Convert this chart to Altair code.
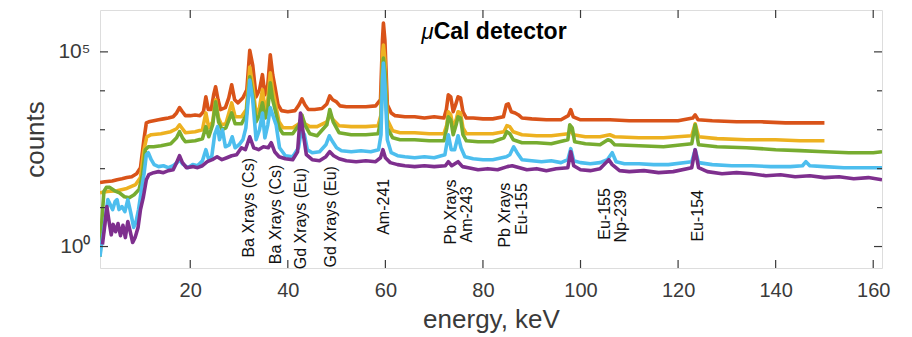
import altair as alt
import pandas as pd

# ---- spectra: energy (keV) and counts per spectrum ----
energy_red = [1.5, 2.5, 4, 5, 6, 7, 8, 9, 9.8, 10.5, 11.0, 11.5, 12.5, 13.5, 14.5, 15.5, 16.5, 17.2, 17.8, 18.4,
              19, 20, 21, 22, 22.7, 23.2, 23.7, 24.3, 24.8, 25.2, 25.7, 26.2, 27.2, 27.9, 28.5, 29.1, 29.8, 30.8,
              31.6, 32.2, 32.8, 33.5, 34.2, 34.8, 35.3, 35.9, 36.4, 36.9, 37.4, 38.0, 38.7, 40, 41.5, 42.3, 42.9,
              43.5, 44.2, 45.5, 47, 48.0, 48.6, 49.2, 49.9, 50.7, 52, 54, 56, 58, 59.0, 59.4, 59.6, 59.9, 60.4,
              61.2, 62, 64, 66, 68, 70, 72, 72.5, 72.9, 73.4, 73.9, 74.4, 74.9, 75.4, 75.9, 76.6, 78, 80, 82,
              84.2, 84.8, 85.2, 85.8, 86.6, 87.3, 88, 90, 93, 96, 97.5, 98.0, 98.5, 100, 103, 106, 110, 115, 120,
              123.0, 123.5, 124.1, 127, 132, 137, 142, 146, 150]
counts_red = [44, 46, 48, 52, 55, 59, 62, 74, 106, 555, 1500, 1600, 1700, 1800, 1900, 2000, 2150, 2700, 3700, 2900,
              2300, 2300, 2400, 2300, 2900, 7000, 3300, 3300, 7900, 12700, 5900, 3300, 3700, 6600, 14300, 5900, 4900, 6600,
              10600, 110000, 46000, 7000, 10600, 26000, 7900, 14300, 84000, 26000, 12000, 4400, 3100, 2900, 3100, 4400, 6200,
              4400, 3300, 3300, 3500, 4600, 7400, 5900, 5300, 4100, 3900, 3900, 3900, 4100, 5900, 200000, 550000, 200000, 4400,
              2700, 2300, 2150, 2150, 2000, 2150, 2000, 3300, 7900, 7000, 2900, 4400, 7000, 6600, 2900, 2000, 2000, 1900, 1900,
              2150, 4400, 4600, 2900, 2700, 2400, 2000, 1900, 1800, 1800, 2300, 3300, 2150, 1800, 1800, 1800, 1700, 1700, 1700,
              2000, 2400, 1800, 1700, 1600, 1600, 1500, 1500, 1500]

energy_yellow = [1.5, 3, 5, 7, 8.8, 9.8, 10.5, 11.1, 12, 14, 16, 17.2, 17.8, 18.4, 19, 21, 22.5, 23.2, 23.8, 24.6,
                 25.2, 25.8, 26.4, 27.3, 28.5, 29.2, 30.5, 31.5, 32.2, 32.8, 33.5, 34.2, 34.8, 35.4, 35.9, 36.4, 36.9,
                 37.5, 38.2, 39, 41, 42.3, 42.9, 43.5, 44.5, 46, 48.0, 48.6, 49.3, 50.5, 53, 56, 58.5, 59.1, 59.4,
                 59.6, 59.9, 60.4, 61.5, 63, 66, 69, 72, 72.6, 72.9, 73.4, 73.9, 74.5, 74.9, 75.4, 75.9, 76.6, 79,
                 82, 84.3, 84.9, 85.5, 86.2, 88, 91, 94, 97.5, 98, 98.5, 101, 104, 106, 107, 112, 117, 122.8, 123.5,
                 124.2, 128, 134, 140, 145, 150]
counts_yellow = [24, 26, 27, 31, 39, 59, 307, 660, 745, 790, 890, 1060, 1340, 1060, 840, 890, 1000, 2700, 1120, 1600,
                 5900, 2000, 1340, 1420, 4900, 2150, 2150, 3300, 41000, 14300, 2400, 3700, 10600, 2900, 5900, 29000, 10600,
                 4400, 1600, 1120, 1120, 1420, 2000, 1420, 1200, 1200, 1600, 2400, 1800, 1270, 1200, 1200, 1270, 2400, 84000,
                 150000, 62000, 1800, 940, 840, 840, 790, 790, 1340, 2900, 2400, 1120, 1800, 2900, 2700, 1120, 790, 790,
                 790, 890, 1270, 1200, 890, 745, 700, 700, 790, 1000, 745, 660, 660, 745, 660, 620, 620, 700, 1420,
                 660, 590, 555, 555, 520, 520]

energy_green = [1.5, 1.9, 2.3, 2.8, 3.5, 4.5, 5.5, 6.5, 7.5, 8.5, 9.5, 10.2, 10.8, 11.4, 12.5, 14, 16, 17.2, 17.8,
                18.4, 19, 21, 22.5, 23.2, 23.8, 24.6, 25.2, 25.8, 26.5, 27.3, 28.5, 29.2, 30.5, 31.5, 32.2, 32.8, 33.5,
                34.2, 34.8, 35.4, 35.9, 36.4, 36.9, 37.5, 38.2, 39, 41, 42.3, 42.9, 43.5, 44.5, 46, 48.0, 48.6, 49.3,
                50.5, 53, 56, 58.5, 59.1, 59.4, 59.6, 59.9, 60.4, 61.5, 63, 66, 69, 72, 72.6, 72.9, 73.4, 73.9, 74.5,
                74.9, 75.4, 75.9, 76.6, 79, 82, 84.3, 84.9, 85.5, 86.2, 88, 91, 94, 97.4, 97.8, 98.3, 98.8, 101, 104,
                105.6, 106.2, 107, 112, 117, 122.8, 123.5, 124.2, 128, 134, 140, 145, 150, 155, 160, 161.8]
counts_green = [0.55, 4.9, 26, 33, 33, 27, 24, 19, 18, 21.5, 29, 70, 307, 365, 365, 389, 438, 620, 890,
                620, 490, 520, 590, 1200, 660, 1340, 5200, 1600, 1000, 1120, 2700, 1420, 1420, 2400, 23000, 7900, 1600,
                2400, 4900, 2000, 3300, 16000, 5900, 2900, 1120, 790, 790, 1340, 2400, 1340, 790, 700, 1340, 3300, 1600,
                840, 745, 745, 790, 1800, 34000, 69000, 31000, 1120, 620, 555, 555, 520, 520, 1120, 2150, 1800, 745, 1340,
                2150, 2000, 745, 520, 490, 490, 620, 890, 790, 555, 465, 465, 438, 555, 1340, 1120, 490, 438, 410,
                555, 520, 410, 389, 365, 438, 1340, 410, 365, 345, 307, 290, 273, 257, 257, 273]

energy_cyan = [1.5, 1.8, 2.2, 2.7, 3.1, 3.6, 4.1, 4.6, 5.0, 5.4, 6.0, 6.6, 7.2, 7.8, 8.4, 8.9, 9.4, 10.0, 10.5, 11.0,
               11.4, 12.0, 12.6, 13.5, 14.5, 15.5, 16.5, 17.3, 17.8, 18.4, 19.5, 20.5, 21.5, 22.5, 23.2, 23.8, 24.4,
               25.0, 25.6, 26.0, 26.6, 27.2, 28.0, 28.6, 29.2, 30.0, 30.8, 31.4, 32.2, 32.8, 33.5, 34.2, 34.8, 35.3,
               35.9, 36.4, 36.9, 37.6, 38.3, 39.5, 41, 42.2, 42.8, 43.4, 44.0, 45, 46.5, 47.8, 48.5, 49.2, 50.0, 51,
               53, 55, 57, 58.6, 59.1, 59.4, 59.6, 59.9, 60.4, 61.2, 62.5, 64, 66, 68, 70, 72.2, 72.9, 73.5, 74.2,
               74.9, 75.5, 76.3, 78, 80, 82, 84.8, 85.5, 86.3, 87.0, 88, 90, 92, 94, 96, 97.4, 98.0, 98.6, 100, 102,
               104, 105.5, 106.5, 107.3, 109, 112, 115, 118, 122.8, 123.5, 124.2, 127, 131, 135, 139, 143, 145.5,
               146.2, 147, 150, 154, 158, 161.8]
counts_cyan = [0.55, 1.13, 2.3, 6.6, 16, 11.9, 8.9, 14.3, 16, 8.9, 10.6, 7.9, 16, 7.4, 3.1, 4.4, 8.9, 29, 70, 228,
               257, 170, 127, 113, 119, 106, 119, 143, 170, 134, 106, 127, 119, 160, 307, 170, 203,
               745, 1200, 555, 1000, 365, 410, 660, 345, 410, 555, 1120, 19000, 5900, 555, 1000, 2700, 620,
               1340, 3700, 2400, 1340, 345, 215, 203, 345, 1000, 745, 307, 257, 273, 410, 700, 490, 345, 290,
               273, 290, 273, 307, 745, 19000, 52000, 14300, 555, 257, 215, 203, 191, 203, 191, 228, 745, 307, 307,
               700, 345, 203, 180, 170, 170, 203, 228, 365, 257, 170, 160, 151, 160, 143, 170, 326, 160, 143, 134,
               143, 170, 257, 151, 134, 134, 127, 127, 151, 307, 143, 127, 119, 119, 113, 113, 119,
               151, 119, 113, 106, 106, 106]

energy_purple = [2.0, 2.5, 2.9, 3.3, 3.8, 4.2, 4.7, 5.2, 5.7, 6.2, 6.7, 7.2, 7.7, 8.2, 8.7, 9.3, 9.8, 10.4, 11.0,
                 11.5, 12.5, 13.5, 14.5, 15.5, 16.5, 17.2, 17.8, 18.4, 19.2, 20.5, 21.5, 22.5, 23.5, 24.5, 25.5, 26.5,
                 27.5, 28.5, 29.5, 30.5, 31.3, 32.2, 33.0, 34.0, 35.0, 36.0, 36.6, 37.3, 38.2, 39.5, 41, 42.0, 42.6,
                 43.2, 43.8, 45, 46.5, 47.8, 48.6, 49.4, 50.5, 52, 54, 56, 58.0, 59.0, 59.5, 60.0, 61, 62.5, 64, 66,
                 68, 70, 72.3, 72.9, 73.6, 74.9, 75.8, 77, 79, 81, 83, 85, 86, 87.5, 89, 91, 93, 95, 97.4, 98.0, 98.6,
                 100, 102, 104, 105.8, 106.5, 108, 110, 113, 116, 119, 122.8, 123.5, 124.2, 126, 129, 132, 135, 138,
                 141, 144, 147, 150, 153, 156, 159, 161.8]
counts_purple = [1.13, 3.7, 10.6, 4.9, 2.0, 3.7, 2.4, 3.9, 1.9, 3.5, 1.7, 4.4, 2.4, 1.27, 1.7, 3.1, 8.9, 19, 52,
                 70, 79, 84, 79, 89, 94, 143, 215, 143, 106, 113, 106, 119, 151, 170, 203, 170,
                 191, 215, 228, 345, 307, 660, 345, 307, 365, 345, 465, 273, 203, 180, 170, 273, 2700,
                 745, 228, 170, 160, 203, 273, 215, 180, 160, 151, 160, 151, 191, 307, 191, 143, 127, 119, 113,
                 119, 113, 119, 151, 119, 151, 113, 106, 94, 100, 94, 113, 119, 106, 94, 100, 89, 100, 106, 273, 119,
                 94, 89, 100, 170, 127, 89, 84, 89, 79, 84, 106, 307, 106, 84, 74, 79, 74, 66,
                 70, 62, 66, 59, 62, 55, 59, 52]

series = [
    ("spectrum 1", "#D95319", energy_red, counts_red),
    ("spectrum 2", "#EDB120", energy_yellow, counts_yellow),
    ("spectrum 3", "#77AC30", energy_green, counts_green),
    ("spectrum 4", "#4DBEEE", energy_cyan, counts_cyan),
    ("spectrum 5", "#7E2F8E", energy_purple, counts_purple),
]

# ---- peak annotations (rotated labels) ----
label_text = ["Ba Xrays (Cs)", "Ba Xrays (Cs)", "Gd Xrays (Eu)", "Gd Xrays (Eu)", "Am-241",
              "Pb Xrays", "Am-243", "Pb Xrays", "Eu-155", "Eu-155", "Np-239", "Eu-154"]
label_energy = [32.0, 37.5, 42.6, 48.8, 59.8, 73.4, 76.8, 84.6, 88.1, 105.1, 108.2, 124.0]
label_counts = [0.52, 0.35, 0.26, 0.29, 2.0, 1.13, 1.27, 0.94, 2.0, 1.5, 1.27, 1.34]

# ---- axis ticks ----
x_ticks = [20, 40, 60, 80, 100, 120, 140, 160]
y_major = [1, 1e5]
y_minor = [10, 100, 1000, 1e4]

FONT = "Liberation Sans"
AXIS_COLOR = "#3a3a3a"

x_scale = alt.Scale(domain=[1.5, 161.8], nice=False, zero=False)
y_scale = alt.Scale(type="log", domain=[0.281, 1.19e6], nice=False)

x_axis = alt.Axis(values=x_ticks, ticks=False, domain=False, grid=False, labelFont=FONT, labelFontSize=20,
                  labelColor=AXIS_COLOR, labelPadding=12, title="energy, keV", titleFont=FONT,
                  titleFontSize=26, titleFontWeight="normal", titleColor=AXIS_COLOR, titlePadding=6)
y_axis = alt.Axis(values=y_major, ticks=False, domain=False, grid=False, labelFont=FONT, labelFontSize=21,
                  labelColor=AXIS_COLOR, labelPadding=10,
                  labelExpr="datum.value == 1 ? '10⁰' : '10⁵'", title="counts", titleFont=FONT,
                  titleFontSize=26, titleFontWeight="normal", titleColor=AXIS_COLOR, titlePadding=9)


def xe(field="energy"):
    return alt.X(f"{field}:Q", scale=x_scale, axis=x_axis)


def ye(field="counts"):
    return alt.Y(f"{field}:Q", scale=y_scale, axis=y_axis)


layers = []

labels_df = pd.DataFrame({"energy": label_energy, "counts": label_counts, "text": label_text})
layers.append(
    alt.Chart(labels_df).mark_text(angle=270, align="left", baseline="middle", font=FONT, fontSize=16,
                                   color="#111111")
    .encode(x=xe(), y=ye(), text="text:N")
)

for name, color, e, c in series:
    df = pd.DataFrame({"energy": e, "counts": c, "series": name})
    layers.append(
        alt.Chart(df).mark_line(color=color, strokeWidth=3.6, clip=True, strokeJoin="round")
        .encode(x=xe(), y=ye(), detail="series:N")
    )

xt = pd.DataFrame({"energy": x_ticks})
layers.append(alt.Chart(xt).mark_rule(color=AXIS_COLOR, strokeWidth=1.2)
              .encode(x=xe(), y=alt.value(258), y2=alt.value(250)))
layers.append(alt.Chart(xt).mark_rule(color=AXIS_COLOR, strokeWidth=1.2)
              .encode(x=xe(), y=alt.value(0), y2=alt.value(8)))

ymaj = pd.DataFrame({"counts": y_major})
ymin = pd.DataFrame({"counts": y_minor})
layers.append(alt.Chart(ymaj).mark_rule(color=AXIS_COLOR, strokeWidth=1.2)
              .encode(y=ye(), x=alt.value(0), x2=alt.value(8)))
layers.append(alt.Chart(ymaj).mark_rule(color=AXIS_COLOR, strokeWidth=1.2)
              .encode(y=ye(), x=alt.value(782), x2=alt.value(774)))
layers.append(alt.Chart(ymin).mark_rule(color=AXIS_COLOR, strokeWidth=1.2)
              .encode(y=ye(), x=alt.value(0), x2=alt.value(5)))
layers.append(alt.Chart(ymin).mark_rule(color=AXIS_COLOR, strokeWidth=1.2)
              .encode(y=ye(), x=alt.value(782), x2=alt.value(777)))

# in-plot title: italic mu followed by bold text
title_df = pd.DataFrame({"energy": [69.9], "counts": [3.26e5]})
layers.append(alt.Chart(title_df).mark_text(text="μ", align="right", baseline="middle", font=FONT,
                                            fontSize=22, fontStyle="italic", color="#000000")
              .encode(x=xe(), y=ye()))
layers.append(alt.Chart(title_df).mark_text(text="Cal detector", align="left", baseline="middle", font=FONT,
                                            fontSize=23, fontWeight="bold", color="#000000")
              .encode(x=xe(), y=ye()))

chart = alt.layer(*layers).properties(
    width=782, height=258,
    padding={"left": 100, "top": 10, "right": 30, "bottom": 69},
    autosize=alt.AutoSizeParams(type="none"),
).configure_view(stroke="#3a3a3a", strokeWidth=1.5).configure(background="white")

chart.save("out.html", embed_options={"renderer": "svg", "actions": False})
